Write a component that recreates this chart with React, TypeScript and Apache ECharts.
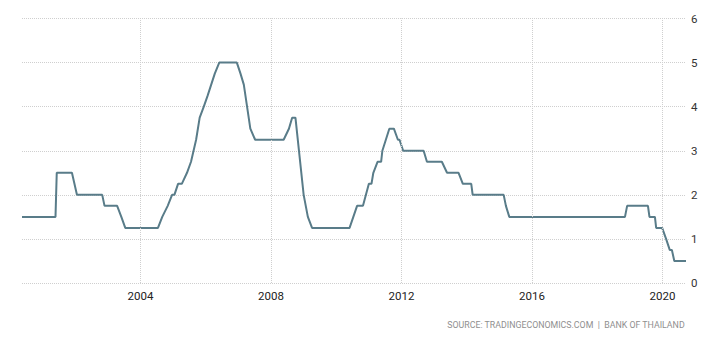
import React, { useEffect, useRef } from "react";
import * as echarts from "echarts";

// Policy rate (%) at observed turning points of the line
const dates = [
  "2000-05-15", "2001-05-25", "2001-06-08", "2001-11-25", "2002-01-20", "2002-10-30",
  "2002-11-25", "2003-04-15", "2003-06-01", "2003-07-15", "2004-07-15", "2004-09-01",
  "2004-11-01", "2004-12-20", "2005-01-15", "2005-02-25", "2005-04-08", "2005-06-05",
  "2005-07-20", "2005-09-15", "2005-10-25", "2005-12-10", "2006-01-22", "2006-03-03",
  "2006-04-12", "2006-06-01", "2006-12-15", "2007-01-25", "2007-03-03", "2007-05-15",
  "2007-07-08", "2008-05-22", "2008-07-20", "2008-08-25", "2008-10-01", "2009-01-01",
  "2009-02-17", "2009-04-05", "2010-05-30", "2010-08-22", "2010-10-27", "2011-01-01",
  "2011-01-30", "2011-02-20", "2011-04-08", "2011-05-18", "2011-06-01", "2011-08-18",
  "2011-10-08", "2011-11-22", "2011-12-10", "2012-01-20", "2012-09-05", "2012-10-12",
  "2013-03-28", "2013-05-25", "2013-10-01", "2013-11-18", "2014-02-20", "2014-03-08",
  "2015-02-18", "2015-03-15", "2015-04-22", "2018-11-07", "2018-12-01", "2019-07-22",
  "2019-08-08", "2019-10-08", "2019-10-22", "2019-12-28", "2020-02-10", "2020-03-22",
  "2020-04-15", "2020-05-12", "2020-09-20",
];
const rates = [
  1.5, 1.5, 2.5, 2.5, 2.0, 2.0,
  1.75, 1.75, 1.5, 1.25, 1.25, 1.5,
  1.75, 2.0, 2.0, 2.25, 2.25, 2.5,
  2.75, 3.25, 3.75, 4.0, 4.25, 4.5,
  4.75, 5.0, 5.0, 4.75, 4.5, 3.5,
  3.25, 3.25, 3.5, 3.75, 3.75, 2.0,
  1.5, 1.25, 1.25, 1.75, 1.75, 2.25,
  2.25, 2.5, 2.75, 2.75, 3.0, 3.5,
  3.5, 3.25, 3.25, 3.0, 3.0, 2.75,
  2.75, 2.5, 2.5, 2.25, 2.25, 2.0,
  2.0, 1.75, 1.5, 1.5, 1.75, 1.75,
  1.5, 1.5, 1.25, 1.25, 1.0, 0.75,
  0.75, 0.5, 0.5,
];
const yearTicks = ["2004-01-01", "2008-01-01", "2012-01-01", "2016-01-01", "2020-01-01"];
const sourceText = "SOURCE: TRADINGECONOMICS.COM  |  BANK OF THAILAND";

export default function App() {
  const ref = useRef<HTMLDivElement>(null);
  useEffect(() => {
    if (!ref.current) return;
    const chart = echarts.init(ref.current, null, { renderer: "svg" });
    const gridColor = "#cfcfcf";
    const t = (d: string) => Date.parse(d);
    chart.setOption({
      animation: false,
      backgroundColor: "#ffffff",
      grid: { left: 22, right: 38, top: 18.5, bottom: 57, containLabel: false },
      xAxis: {
        type: "value",
        min: t(dates[0]),
        max: t(dates[dates.length - 1]),
        axisLine: { show: false },
        axisTick: { show: false },
        splitLine: { show: false },
        axisLabel: {
          customValues: yearTicks.map(t),
          formatter: (v: number) => String(new Date(v).getUTCFullYear()),
          fontFamily: "Roboto",
          fontSize: 11.5,
          color: "#222",
          margin: 7,
          hideOverlap: false,
        },
      },
      yAxis: {
        type: "value",
        position: "right",
        min: 0,
        max: 6,
        interval: 1,
        axisLine: { show: false },
        axisTick: { show: false },
        axisLabel: { fontFamily: "Roboto", fontSize: 11.5, color: "#333", margin: 5 },
        splitLine: { show: true, lineStyle: { color: gridColor, type: [1, 1], width: 1 } },
      },
      graphic: [
        {
          type: "text",
          right: 39,
          top: 320,
          style: {
            text: sourceText,
            fontFamily: "Roboto",
            fontSize: 8.8,
            fill: "#8f8f8f",
          },
        },
      ],
      series: [
        {
          type: "line",
          data: dates.map((d, i) => [t(d), rates[i]]),
          showSymbol: false,
          symbol: "none",
          lineStyle: { color: "#597c89", width: 2 },
          markLine: {
            silent: true,
            symbol: "none",
            label: { show: false },
            lineStyle: { color: gridColor, type: [1, 1], width: 1 },
            data: yearTicks.map((d) => ({ xAxis: t(d) })),
          },
        },
      ],
    });
    return () => chart.dispose();
  }, []);
  return (
    <div
      ref={ref}
      style={{ position: "fixed", left: 0, top: 0, width: 724, height: 340 }}
    />
  );
}
